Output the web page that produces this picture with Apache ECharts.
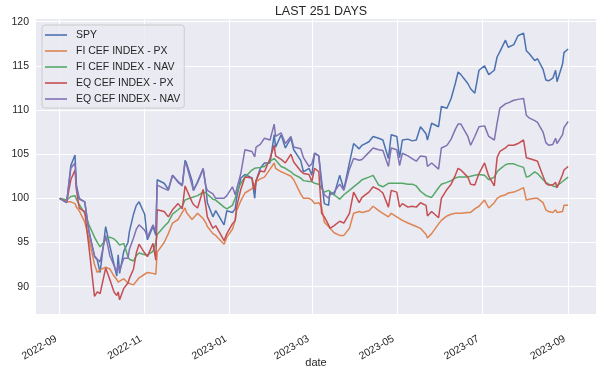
<!DOCTYPE html>
<html>
<head>
<meta charset="utf-8">
<script src="https://cdn.jsdelivr.net/npm/echarts@6/dist/echarts.min.js"></script>
<style>
html,body{margin:0;padding:0;background:#fff;}
#chart{width:606px;height:374px;}
</style>
</head>
<body>
<div id="chart"></div>
<script>
const dates = [
 '2022-09-01','2022-09-06','2022-09-09','2022-09-12','2022-09-13','2022-09-15','2022-09-19','2022-09-22','2022-09-26','2022-09-28','2022-09-30',
 '2022-10-04','2022-10-07','2022-10-10','2022-10-12','2022-10-13','2022-10-14','2022-10-17','2022-10-20','2022-10-21','2022-10-24','2022-10-26','2022-10-28',
 '2022-11-01','2022-11-03','2022-11-07','2022-11-09','2022-11-10','2022-11-15','2022-11-18','2022-11-21','2022-11-25','2022-11-28','2022-11-30',
 '2022-12-01','2022-12-05','2022-12-06','2022-12-09','2022-12-13','2022-12-15','2022-12-16','2022-12-20','2022-12-22','2022-12-28','2022-12-30',
 '2023-01-03','2023-01-05','2023-01-06','2023-01-09','2023-01-12','2023-01-17','2023-01-19','2023-01-20','2023-01-23','2023-01-26','2023-01-30',
 '2023-02-02','2023-02-03','2023-02-07','2023-02-10','2023-02-14','2023-02-16','2023-02-21','2023-02-23','2023-02-27',
 '2023-03-01','2023-03-03','2023-03-06','2023-03-08','2023-03-10','2023-03-13','2023-03-14','2023-03-17','2023-03-21','2023-03-24','2023-03-28','2023-03-31',
 '2023-04-04','2023-04-06','2023-04-11','2023-04-14','2023-04-18','2023-04-21','2023-04-25','2023-04-27',
 '2023-05-01','2023-05-03','2023-05-05','2023-05-09','2023-05-12','2023-05-15','2023-05-18','2023-05-22','2023-05-23','2023-05-26','2023-05-31',
 '2023-06-02','2023-06-06','2023-06-09','2023-06-12','2023-06-14','2023-06-16','2023-06-21','2023-06-23','2023-06-26','2023-06-29',
 '2023-07-03','2023-07-06','2023-07-10','2023-07-12','2023-07-14','2023-07-18','2023-07-20','2023-07-24','2023-07-27','2023-07-31',
 '2023-08-02','2023-08-04','2023-08-08','2023-08-10','2023-08-14','2023-08-16','2023-08-18','2023-08-21','2023-08-23','2023-08-24','2023-08-28','2023-08-29','2023-09-01'
];

const spy = [
 100,99.5,103.7,104.9,101.5,100.0,99.6,96.3,93.4,93.0,91.6,
 96.8,94.6,92.5,91.2,93.6,91.5,94.0,95.0,96.2,98.2,99.2,99.6,
 98.2,95.3,96.8,95.8,102.1,101.7,101.0,102.6,101.9,101.5,104.3,
 104.0,102.0,100.9,101.8,103.3,101.2,99.5,97.9,98.6,97.0,98.6,
 98.4,98.8,100.0,102.3,102.7,102.3,100.0,102.0,103.4,104.0,104.0,
 107.2,105.8,107.2,105.7,106.8,105.5,104.3,103.0,103.4,
 102.6,105.1,104.8,102.0,99.4,99.2,100.7,100.4,102.6,101.0,104.0,106.2,
 105.6,106.0,106.4,107.0,106.8,106.6,104.5,107.2,
 107.0,104.6,106.6,106.7,106.5,106.6,108.1,107.3,106.6,108.5,108.1,
 110.4,110.2,111.3,113.0,114.3,114.0,113.0,112.4,111.9,114.5,
 115.0,114.0,114.5,116.0,116.6,117.9,117.1,117.4,118.4,118.7,
 116.7,116.4,115.6,115.8,114.6,113.4,113.3,113.6,114.5,113.2,115.2,116.5,116.9
];

const fiPx = [
 100,99.6,99.6,99.4,99.0,98.6,97.3,95.4,92.5,91.6,91.9,
 92.2,92.0,91.2,90.8,90.5,90.3,90.9,90.4,90.6,90.2,90.6,91.0,
 91.4,91.6,91.5,91.4,93.9,95.0,96.0,97.2,97.6,98.4,98.9,
 98.4,97.6,97.4,98.3,97.7,97.2,96.8,96.0,95.8,94.8,95.6,
 96.5,97.5,98.6,99.7,100.6,101.1,101.6,101.9,102.2,102.4,103.3,
 104.0,103.4,103.0,102.8,102.5,102.1,100.5,100.0,100.0,
 99.8,99.4,99.5,99.0,97.3,96.8,96.7,96.1,95.8,95.8,96.6,98.3,
 98.5,98.4,98.6,99.1,98.6,98.3,97.9,98.3,
 97.9,97.7,97.5,97.2,97.0,96.8,96.6,95.9,95.5,96.0,97.1,
 97.5,98.0,98.2,98.3,98.3,98.3,98.4,98.4,98.8,99.1,
 99.8,98.9,99.5,100.0,100.2,100.4,100.6,100.7,100.9,101.2,
 99.8,99.9,100.0,100.0,99.5,98.7,98.5,98.4,98.7,98.4,98.5,99.2,99.2
];

const fiNav = [
 100,99.8,100.2,100.3,99.9,99.3,98.3,97.0,95.6,95.0,94.5,
 95.3,95.6,95.4,95.1,94.9,94.7,94.9,93.4,93.1,92.9,93.5,93.8,
 93.6,93.6,94.0,95.0,95.9,96.8,97.3,98.2,98.7,99.1,99.8,
 100.0,100.1,100.2,100.3,100.7,100.6,100.5,99.9,99.8,99.0,98.8,
 99.2,100.0,100.6,101.7,102.4,103.2,103.4,103.4,103.5,103.6,104.2,
 104.5,104.3,103.6,103.4,103.0,102.7,102.3,102.0,101.9,
 101.9,101.7,101.6,101.1,100.7,100.9,100.8,100.4,99.9,100.4,100.9,101.3,
 101.8,102.1,102.4,102.6,101.5,101.3,101.7,101.7,
 101.7,101.7,101.7,101.6,101.6,101.4,100.8,100.3,100.1,100.1,101.2,
 101.6,101.8,102.0,102.3,102.4,102.4,102.4,102.5,102.6,102.7,
 102.6,102.1,102.4,103.0,103.3,103.8,103.9,103.9,103.7,103.5,
 102.4,102.5,103.0,102.8,102.1,101.8,101.6,101.4,101.3,101.5,101.9,102.1,102.4
];

const eqPx = [
 100,99.6,102.1,103.2,101.0,98.9,98.5,94.5,88.9,89.4,89.2,
 92.1,90.8,89.4,89.0,89.4,88.5,89.8,90.4,90.9,92.0,93.8,94.8,
 93.8,93.4,94.9,93.0,98.7,98.5,97.9,98.7,99.4,98.8,101.4,
 101.4,99.6,99.3,98.9,101.0,99.0,97.9,96.6,96.9,95.2,96.0,
 97.1,97.5,99.0,101.0,102.4,102.3,100.9,102.0,103.1,103.0,104.5,
 106.0,104.8,104.4,104.0,105.0,104.1,103.1,102.8,102.7,
 101.9,103.4,103.0,98.3,97.9,97.0,96.6,96.9,97.4,97.2,98.3,100.7,
 99.5,100.1,100.7,101.3,101.0,100.6,99.0,100.9,
 100.7,99.0,99.4,99.0,99.1,99.0,99.5,99.2,98.0,98.5,97.8,
 100.0,101.0,101.6,102.6,103.4,103.2,102.4,101.6,101.5,102.8,
 104.0,102.5,101.4,104.6,105.3,105.7,106.0,106.0,106.2,106.6,
 104.6,104.5,104.3,104.2,102.5,101.7,101.5,101.5,101.8,101.2,102.7,103.2,103.6
];

const eqNav = [
 100,99.5,103.4,104.0,101.2,99.9,99.6,96.2,93.5,93.1,92.8,
 95.8,93.5,92.4,91.6,92.5,91.8,93.2,93.2,94.2,95.5,96.5,97.0,
 96.4,95.6,97.0,96.2,101.5,101.1,100.9,102.6,101.8,101.4,104.1,
 103.8,101.5,100.9,101.9,103.4,101.3,100.9,100.5,100.0,100.0,100.3,
 101.3,100.4,101.0,102.8,105.5,105.3,104.7,105.8,106.1,106.8,106.6,
 108.4,107.0,107.4,106.2,107.0,105.8,105.6,104.6,103.6,
 103.9,105.1,104.8,101.3,100.4,100.0,100.4,100.7,101.6,100.9,103.3,104.5,
 104.3,104.4,105.2,105.7,105.5,105.4,103.6,105.7,
 105.5,103.7,105.1,104.8,104.5,104.2,104.8,104.7,103.6,104.0,103.3,
 105.7,106.0,106.7,107.8,108.4,108.4,107.0,106.0,107.0,108.1,
 108.2,107.0,106.6,108.5,110.2,110.7,110.8,111.1,111.2,111.3,
 109.4,109.1,108.8,108.6,107.5,106.3,106.0,106.1,106.8,106.2,107.2,108.0,108.7
];

const seriesNames = ['SPY','FI CEF INDEX - PX','FI CEF INDEX - NAV','EQ CEF INDEX - PX','EQ CEF INDEX - NAV'];
const seriesValues = [spy, fiPx, fiNav, eqPx, eqNav];
const colors = ['#4C72B0','#DD8452','#55A868','#C44E52','#8172B3'];

const xTickLabels = ['2022-09','2022-11','2023-01','2023-03','2023-05','2023-07','2023-09'];
const yTickLabels = [90,95,100,105,110,115,120];

const FONT = 'Liberation Sans, Arial, sans-serif';
const TXT = '#262626';

function ts(s) { return +echarts.number.parseDate(s); }
const xTickValues = xTickLabels.map(s => ts(s + '-01'));
const labelByValue = {};
xTickLabels.forEach((s, i) => { labelByValue[xTickValues[i]] = s; });

const chart = echarts.init(document.getElementById('chart'), null, {renderer: 'canvas'});
chart.setOption({
  animation: false,
  backgroundColor: '#ffffff',
  color: colors,
  title: {
    text: 'LAST 251 DAYS',
    left: 316, top: 0, textAlign: 'center',
    textStyle: {fontFamily: FONT, fontSize: 12.5, fontWeight: 'normal', color: TXT}
  },
  grid: {
    left: 36, right: 10, top: 19, bottom: 60,
    containLabel: false,
    outerBoundsMode: 'none',
    show: true, backgroundColor: '#EAEAF2', borderWidth: 0
  },
  legend: {
    orient: 'vertical',
    left: 42, top: 25,
    icon: 'rect',
    itemWidth: 22, itemHeight: 1.6, itemGap: 4,
    padding: [4, 4, 3, 3],
    backgroundColor: 'rgba(234,234,242,0.8)',
    borderColor: '#cccccc', borderWidth: 1, borderRadius: 3,
    textStyle: {fontFamily: FONT, fontSize: 10.5, color: TXT, padding: [0,0,0,4], lineHeight: 12},
    data: seriesNames
  },
  xAxis: {
    type: 'value',
    min: ts('2022-08-15'),
    max: ts('2023-09-21'),
    name: 'date', nameLocation: 'middle', nameGap: 43,
    nameMoveOverlap: false,
    nameTextStyle: {fontFamily: FONT, fontSize: 11, color: TXT},
    axisLine: {show: false},
    axisTick: {show: false, customValues: xTickValues},
    axisLabel: {
      customValues: xTickValues,
      rotate: 30, margin: 22,
      padding: [0, 4, 0, 0],
      fontFamily: FONT, fontSize: 10.5, color: TXT,
      formatter: function (v) { return labelByValue[v] !== undefined ? labelByValue[v] : ''; }
    },
    splitLine: {show: true, lineStyle: {color: '#ffffff', width: 1.1}}
  },
  yAxis: {
    type: 'value',
    min: 86.9, max: 120.3,
    axisLine: {show: false},
    axisTick: {show: false, customValues: yTickLabels},
    axisLabel: {
      customValues: yTickLabels, margin: 7,
      fontFamily: FONT, fontSize: 10.5, color: TXT
    },
    splitLine: {show: true, lineStyle: {color: '#ffffff', width: 1.1}}
  },
  series: seriesNames.map((name, k) => ({
    name: name,
    type: 'line',
    symbol: 'none',
    showSymbol: false,
    lineStyle: {width: 1.5, color: colors[k]},
    itemStyle: {color: colors[k]},
    data: dates.map((d, i) => [ts(d), seriesValues[k][i]])
  }))
});
</script>
</body>
</html>
